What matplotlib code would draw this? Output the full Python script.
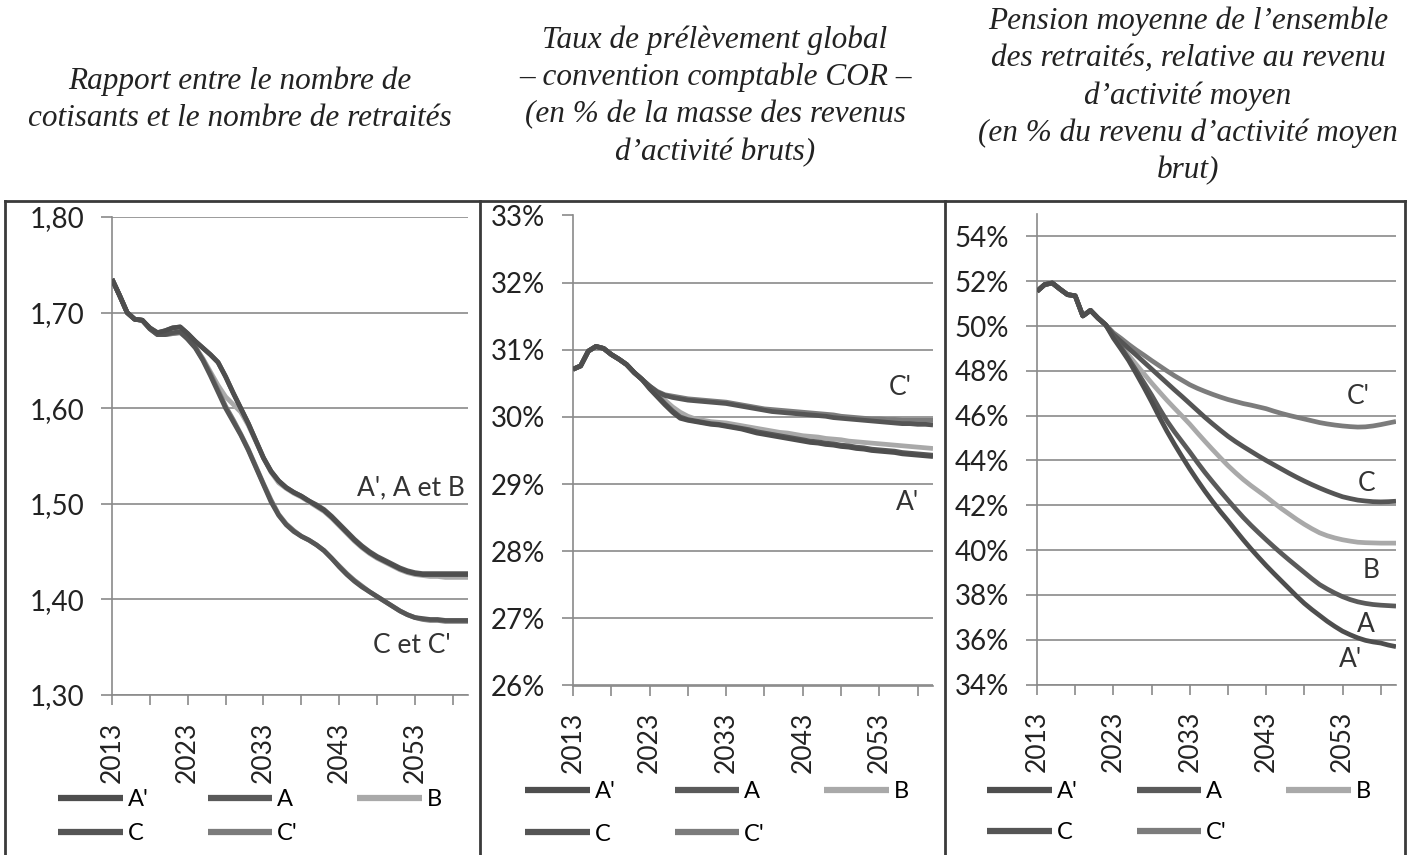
import numpy as np
import matplotlib
matplotlib.use("Agg")
import matplotlib.pyplot as plt
from matplotlib.lines import Line2D

years = list(range(2013, 2061))

# Panel 1: ratio cotisants / retraites
p1_Ap = [1.735, 1.718, 1.700, 1.693, 1.692, 1.684, 1.679, 1.681, 1.684, 1.685,
         1.678, 1.670, 1.663, 1.656, 1.648, 1.633, 1.616, 1.600, 1.584, 1.566,
         1.548, 1.534, 1.524, 1.517, 1.512, 1.508, 1.503, 1.498, 1.493, 1.486,
         1.478, 1.470, 1.462, 1.455, 1.449, 1.444, 1.440, 1.436, 1.432, 1.429,
         1.427, 1.426, 1.426, 1.426, 1.426, 1.426, 1.426, 1.426]
p1_A = [1.735, 1.718, 1.700, 1.693, 1.692, 1.684, 1.679, 1.681, 1.684, 1.685,
        1.678, 1.670, 1.663, 1.656, 1.648, 1.633, 1.616, 1.600, 1.584, 1.566,
        1.548, 1.534, 1.524, 1.517, 1.512, 1.508, 1.503, 1.499, 1.494, 1.487,
        1.479, 1.471, 1.463, 1.456, 1.450, 1.445, 1.441, 1.437, 1.433, 1.430,
        1.428, 1.427, 1.427, 1.427, 1.427, 1.427, 1.427, 1.427]
p1_B = [1.735, 1.718, 1.700, 1.693, 1.692, 1.683, 1.677, 1.677, 1.678, 1.679,
        1.673, 1.664, 1.652, 1.638, 1.624, 1.612, 1.604, 1.596, 1.582, 1.565,
        1.548, 1.533, 1.522, 1.516, 1.511, 1.507, 1.502, 1.497, 1.492, 1.485,
        1.477, 1.469, 1.461, 1.454, 1.448, 1.443, 1.439, 1.435, 1.431, 1.428,
        1.426, 1.425, 1.424, 1.424, 1.423, 1.423, 1.423, 1.423]
p1_C = [1.735, 1.718, 1.700, 1.693, 1.692, 1.683, 1.677, 1.677, 1.679, 1.680,
        1.672, 1.663, 1.650, 1.634, 1.617, 1.600, 1.586, 1.572, 1.556, 1.538,
        1.520, 1.502, 1.488, 1.478, 1.471, 1.466, 1.462, 1.457, 1.451, 1.443,
        1.434, 1.426, 1.419, 1.413, 1.408, 1.403, 1.398, 1.393, 1.388, 1.384,
        1.381, 1.380, 1.379, 1.379, 1.378, 1.378, 1.378, 1.378]
p1_Cp = [1.735, 1.718, 1.700, 1.693, 1.692, 1.683, 1.677, 1.677, 1.678, 1.679,
         1.673, 1.664, 1.651, 1.636, 1.619, 1.602, 1.588, 1.573, 1.557, 1.539,
         1.521, 1.504, 1.489, 1.479, 1.472, 1.466, 1.462, 1.457, 1.451, 1.443,
         1.435, 1.427, 1.420, 1.414, 1.408, 1.403, 1.398, 1.393, 1.388, 1.384,
         1.381, 1.379, 1.378, 1.378, 1.377, 1.377, 1.377, 1.377]

# Panel 2: taux de prelevement global (%)
p2_Ap = [30.71, 30.76, 30.98, 31.05, 31.02, 30.93, 30.86, 30.78, 30.66, 30.56,
         30.42, 30.30, 30.18, 30.07, 29.98, 29.95, 29.93, 29.91, 29.89, 29.88,
         29.86, 29.84, 29.82, 29.79, 29.76, 29.74, 29.72, 29.70, 29.68, 29.66,
         29.64, 29.62, 29.61, 29.59, 29.58, 29.56, 29.55, 29.53, 29.52, 29.50,
         29.49, 29.48, 29.47, 29.45, 29.44, 29.43, 29.42, 29.41]
p2_A = [30.71, 30.76, 30.98, 31.05, 31.02, 30.93, 30.86, 30.78, 30.66, 30.56,
        30.43, 30.32, 30.20, 30.09, 30.00, 29.96, 29.94, 29.92, 29.90, 29.89,
        29.87, 29.85, 29.83, 29.81, 29.78, 29.76, 29.74, 29.72, 29.70, 29.68,
        29.66, 29.64, 29.63, 29.61, 29.60, 29.58, 29.57, 29.55, 29.54, 29.52,
        29.51, 29.50, 29.49, 29.47, 29.46, 29.45, 29.44, 29.43]
p2_B = [30.71, 30.76, 30.98, 31.05, 31.02, 30.93, 30.86, 30.78, 30.66, 30.56,
        30.45, 30.35, 30.25, 30.15, 30.07, 30.01, 29.97, 29.95, 29.93, 29.92,
        29.91, 29.89, 29.87, 29.85, 29.83, 29.81, 29.79, 29.77, 29.76, 29.74,
        29.72, 29.71, 29.70, 29.68, 29.67, 29.66, 29.64, 29.63, 29.62, 29.61,
        29.60, 29.59, 29.58, 29.57, 29.56, 29.55, 29.54, 29.53]
p2_C = [30.71, 30.76, 30.98, 31.05, 31.02, 30.93, 30.86, 30.78, 30.66, 30.56,
        30.46, 30.37, 30.32, 30.29, 30.27, 30.25, 30.24, 30.23, 30.22, 30.21,
        30.20, 30.18, 30.16, 30.14, 30.12, 30.10, 30.08, 30.07, 30.06, 30.05,
        30.04, 30.03, 30.02, 30.01, 29.99, 29.98, 29.97, 29.96, 29.95, 29.94,
        29.93, 29.92, 29.91, 29.90, 29.90, 29.89, 29.89, 29.88]
p2_Cp = [30.71, 30.76, 30.98, 31.05, 31.02, 30.93, 30.86, 30.78, 30.66, 30.56,
         30.46, 30.38, 30.33, 30.31, 30.29, 30.27, 30.26, 30.25, 30.24, 30.23,
         30.22, 30.20, 30.18, 30.16, 30.14, 30.12, 30.11, 30.10, 30.09, 30.08,
         30.07, 30.06, 30.05, 30.04, 30.03, 30.01, 30.00, 29.99, 29.98, 29.97,
         29.97, 29.96, 29.96, 29.95, 29.95, 29.95, 29.95, 29.95]

# Panel 3: pension moyenne relative (%)
p3_Ap = [51.55, 51.85, 51.92, 51.65, 51.40, 51.35, 50.45, 50.70, 50.35, 50.05,
         49.46, 48.97, 48.46, 47.87, 47.26, 46.62, 45.95, 45.31, 44.72, 44.16,
         43.62, 43.11, 42.62, 42.16, 41.72, 41.31, 40.88, 40.46, 40.06, 39.68,
         39.31, 38.96, 38.62, 38.28, 37.94, 37.62, 37.34, 37.08, 36.82, 36.59,
         36.38, 36.22, 36.08, 35.97, 35.90, 35.85, 35.76, 35.69]
p3_A = [51.55, 51.85, 51.92, 51.65, 51.40, 51.35, 50.45, 50.70, 50.35, 50.05,
        49.54, 49.05, 48.54, 48.01, 47.47, 46.92, 46.33, 45.77, 45.28, 44.83,
        44.38, 43.91, 43.46, 43.04, 42.63, 42.23, 41.84, 41.46, 41.11, 40.78,
        40.46, 40.15, 39.85, 39.56, 39.28, 39.00, 38.72, 38.46, 38.26, 38.08,
        37.92, 37.79, 37.69, 37.62, 37.57, 37.54, 37.52, 37.50]
p3_B = [51.55, 51.85, 51.92, 51.65, 51.40, 51.35, 50.45, 50.70, 50.35, 50.05,
        49.55, 49.12, 48.69, 48.28, 47.87, 47.46, 47.07, 46.69, 46.33, 45.98,
        45.62, 45.23, 44.85, 44.48, 44.12, 43.77, 43.45, 43.15, 42.88, 42.63,
        42.38, 42.11, 41.85, 41.61, 41.37, 41.15, 40.95, 40.77, 40.64, 40.54,
        40.46, 40.40, 40.35, 40.33, 40.32, 40.31, 40.31, 40.31]
p3_C = [51.55, 51.85, 51.92, 51.65, 51.40, 51.35, 50.45, 50.70, 50.35, 50.05,
        49.62, 49.31, 49.00, 48.70, 48.39, 48.08, 47.77, 47.46, 47.15, 46.85,
        46.54, 46.23, 45.92, 45.63, 45.35, 45.08, 44.84, 44.62, 44.41, 44.20,
        44.00, 43.81, 43.62, 43.43, 43.25, 43.08, 42.92, 42.77, 42.63, 42.50,
        42.38, 42.30, 42.23, 42.19, 42.16, 42.15, 42.16, 42.18]
p3_Cp = [51.55, 51.85, 51.92, 51.65, 51.40, 51.35, 50.45, 50.70, 50.35, 50.05,
         49.70, 49.45, 49.18, 48.93, 48.70, 48.46, 48.23, 48.00, 47.78, 47.58,
         47.38, 47.22, 47.08, 46.95, 46.83, 46.72, 46.63, 46.54, 46.47, 46.39,
         46.31, 46.20, 46.10, 46.01, 45.93, 45.85, 45.77, 45.69, 45.63, 45.58,
         45.54, 45.51, 45.49, 45.50, 45.54, 45.60, 45.67, 45.74]

labels = ["A'", "A", "B", "C", "C'"]
colors = ["#4e4e4e", "#5a5a5a", "#a9a9a9", "#555555", "#7c7c7c"]

titles = [
    "Rapport entre le nombre de\ncotisants et le nombre de retraités",
    "Taux de prélèvement global\n– convention comptable COR –\n(en % de la masse des revenus\nd’activité bruts)",
    "Pension moyenne de l’ensemble\ndes retraités, relative au revenu\nd’activité moyen\n(en % du revenu d’activité moyen\nbrut)",
]

p1_yticks = [1.30, 1.40, 1.50, 1.60, 1.70, 1.80]
p1_yticklabels = ["1,30", "1,40", "1,50", "1,60", "1,70", "1,80"]
p2_yticks = [26, 27, 28, 29, 30, 31, 32, 33]
p2_yticklabels = ["26%", "27%", "28%", "29%", "30%", "31%", "32%", "33%"]
p3_yticks = [34, 36, 38, 40, 42, 44, 46, 48, 50, 52, 54]
p3_yticklabels = ["34%", "36%", "38%", "40%", "42%", "44%", "46%", "48%", "50%", "52%", "54%"]
xticks = [2013, 2023, 2033, 2043, 2053]
xminor = [2018, 2028, 2038, 2048, 2058]

W, H = 1407, 855
fig = plt.figure(figsize=(W / 100, H / 100), dpi=100)
fig.patch.set_facecolor("white")


def fx(px):
    return px / W


def fy(py):
    return 1 - py / H


grid_c = "#8a8a8a"
sans = "Lato"

panels = [
    dict(rect=[fx(112), fy(695), fx(468 - 112), (695 - 217) / H], data=[p1_Ap, p1_A, p1_B, p1_C, p1_Cp],
         ylim=(1.30, 1.80), yt=p1_yticks, ytl=p1_yticklabels, leg=(58, 789), ls=0.57, title=(240, 100)),
    dict(rect=[fx(573), fy(685.5), fx(933 - 573), (685.5 - 215.5) / H], data=[p2_Ap, p2_A, p2_B, p2_C, p2_Cp],
         ylim=(26, 33), yt=p2_yticks, ytl=p2_yticklabels, leg=(525, 781), ls=0.92, title=(715, 96)),
    dict(rect=[fx(1037), fy(684.5), fx(1396 - 1037), (684.5 - 214) / H], data=[p3_Ap, p3_A, p3_B, p3_C, p3_Cp],
         ylim=(34, 55), yt=p3_yticks, ytl=p3_yticklabels, leg=(987, 781), ls=0.85, title=(1188, 96)),
]

annots = [
    [("A', A et B", 2059.6, 1.517, "right"), ("C et C'", 2052.6, 1.352, "center")],
    [("C'", 2055.7, 30.44, "center"), ("A'", 2056.7, 28.72, "center")],
    [("C'", 2055.0, 46.86, "center"), ("C", 2056.2, 42.97, "center"), ("B", 2056.8, 39.09, "center"),
     ("A", 2056.0, 36.68, "center"), ("A'", 2054.0, 35.11, "center")],
]

for i, p in enumerate(panels):
    ax = fig.add_axes(p["rect"])
    handles = []
    # draw so that darker lines sit on top of lighter ones
    order = [2, 4, 3, 1, 0]
    for k in order:
        ax.plot(years, p["data"][k], color=colors[k], linewidth=3.4, solid_capstyle="butt", zorder=3)
    for k in range(5):
        handles.append(Line2D([0], [0], color=colors[k], linewidth=4.5, solid_capstyle="butt"))
    ax.set_xlim(2013, 2060)
    ax.set_ylim(*p["ylim"])
    ax.set_yticks(p["yt"])
    ax.set_yticklabels(p["ytl"], fontsize=20, family=sans, color="#222222")
    ax.set_xticks(xticks)
    ax.set_xticklabels([str(x) for x in xticks], rotation=90, fontsize=19, family=sans, color="#222222")
    ax.set_xticks(xminor, minor=True)
    ax.tick_params(axis="y", length=8, width=1.2, color=grid_c, pad=12)
    ax.tick_params(axis="x", which="both", length=7, width=1.2, color=grid_c, pad=12)
    ax.grid(axis="y", color=grid_c, linewidth=1.2, zorder=1)
    ax.set_axisbelow(True)
    for s in ["top", "right"]:
        ax.spines[s].set_visible(False)
    for s in ["left", "bottom"]:
        ax.spines[s].set_color(grid_c)
        ax.spines[s].set_linewidth(1.2)
    for txt, x, y, ha in annots[i]:
        ax.text(x, y, txt, ha=ha, va="center", fontsize=19, family=sans, color="#333333")

    # legend: row 1 A', A, B ; row 2 C, C'
    lo = [0, 3, 1, 4, 2]
    fig.legend([handles[k] for k in lo], [labels[k] for k in lo], ncol=3,
               loc="upper left", bbox_to_anchor=(fx(p["leg"][0]), fy(p["leg"][1])),
               frameon=False, prop={"family": sans, "size": 17},
               handlelength=2.75, handletextpad=0.2, columnspacing=2.5,
               labelspacing=p["ls"], borderpad=0, borderaxespad=0)

    fig.text(fx(p["title"][0]), fy(p["title"][1]), titles[i], ha="center", va="center",
             fontsize=22.5, family="Liberation Serif", style="italic", linespacing=1.36, color="#222222")

# panel frames
frame_c = "#3a3a3a"
fig.add_artist(Line2D([fx(5), fx(1405)], [fy(201), fy(201)], color=frame_c, linewidth=2))
for px in [5, 480, 945, 1405]:
    fig.add_artist(Line2D([fx(px), fx(px)], [fy(201), 0], color=frame_c, linewidth=2))

fig.savefig("out.png", dpi=100, facecolor="white")
